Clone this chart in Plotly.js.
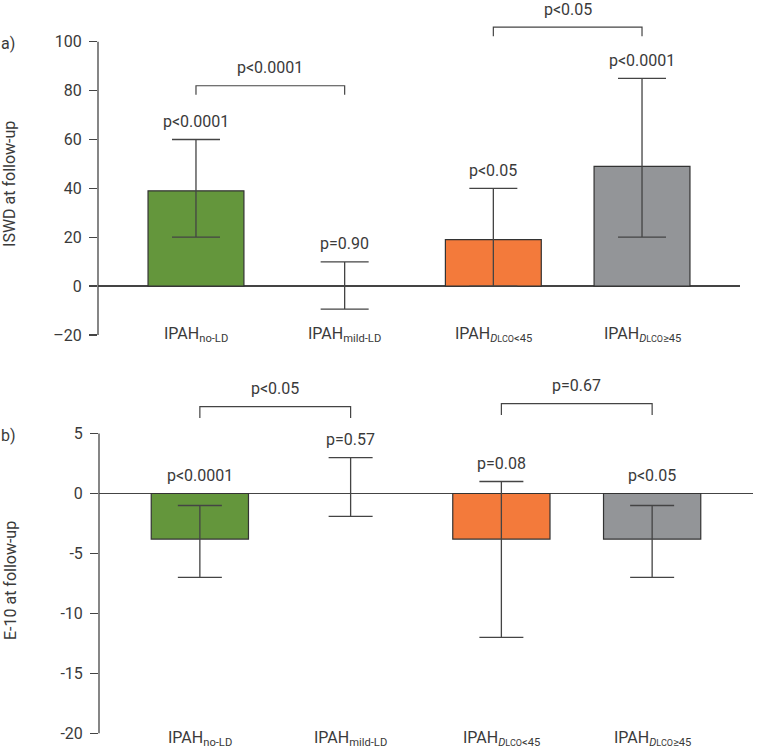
<!DOCTYPE html>
<html><head><meta charset="utf-8">
<script src="https://cdn.plot.ly/plotly-3.0.1.min.js"></script>
<style>html,body{margin:0;padding:0;background:#fff}#chart{width:765px;height:750px}</style>
</head><body><div id="chart"></div>
<script>
// ---- data ----
const categories = [
  'IPAH<sub>no-LD</sub>',
  'IPAH<sub>mild-LD</sub>',
  "IPAH<sub><i>D</i><span style='font-size:9px'>LCO</span>&lt;45</sub>",
  "IPAH<sub><i>D</i><span style='font-size:9px'>LCO</span>≥45</sub>"
];
const barColors = ['#64963c', 'rgba(0,0,0,0)', '#f37a3b', '#939598'];
const barOutline = [1.2, 0, 1.2, 1.2];

const iswdMean = [39, 0.4, 19, 49];
const iswdErrPlus = [21, 9.5, 21, 36];
const iswdErrMinus = [19, 9.8, 19, 29];
const iswdPLabels = ['p&lt;0.0001', 'p=0.90', 'p&lt;0.05', 'p&lt;0.0001'];
const iswdCompare = [[0, 1, 'p&lt;0.0001'], [2, 3, 'p&lt;0.05']];
const iswdTickVals = [-20, 0, 20, 40, 60, 80, 100];
const iswdTickText = ['–20', '0', '20', '40', '60', '80', '100'];

const e10Mean = [-3.8, 0.5, -3.8, -3.8];
const e10ErrPlus = [2.8, 2.5, 4.8, 2.8];
const e10ErrMinus = [3.2, 2.4, 8.2, 3.2];
const e10PLabels = ['p&lt;0.0001', 'p=0.57', 'p=0.08', 'p&lt;0.05'];
const e10Compare = [[0, 1, 'p&lt;0.05'], [2, 3, 'p=0.67']];
const e10TickVals = [-20, -15, -10, -5, 0, 5];
const e10TickText = ['-20', '-15', '-10', '-5', '0', '5'];

// ---- styling / layout constants ----
const W = 765, H = 750;
const INK = '#444';
const TXT = '#3a3a3a';
const FONT = 'Roboto, "Open Sans", sans-serif';
const xIdx = categories.map((_, i) => i);

function barTrace(y, plus, minus, xa, ya, capW) {
  return {
    type: 'bar', x: xIdx, y: y, xaxis: xa, yaxis: ya, width: 0.645,
    marker: { color: barColors, line: { color: '#333', width: barOutline } },
    error_y: { type: 'data', symmetric: false, array: plus, arrayminus: minus,
               color: INK, thickness: 1.3, width: capW },
    hoverinfo: 'skip'
  };
}

const traces = [
  barTrace(iswdMean, iswdErrPlus, iswdErrMinus, 'x', 'y', 24),
  barTrace(e10Mean, e10ErrPlus, e10ErrMinus, 'x2', 'y2', 22)
];

const annotations = [];
const shapes = [];

function addPanel(mean, plus, labels, compare, xr, yr, bracketY, legDrop, catLabelY, axisTop, axisBottom, title, titleY, panelLab) {
  mean.forEach((m, i) => {
    annotations.push({ x: i, y: Math.max(m + plus[i], 0), xref: xr, yref: yr, yshift: 18,
      text: labels[i], showarrow: false, xanchor: 'center', yanchor: 'middle', font: { size: 16, color: TXT } });
    annotations.push({ x: i, y: catLabelY, xref: xr, yref: yr,
      text: categories[i], showarrow: false, xanchor: 'center', yanchor: 'middle', font: { size: 16, color: TXT } });
  });
  compare.forEach((c, k) => {
    const by = bracketY[k];
    shapes.push({ type: 'path', xref: xr, yref: yr,
      path: `M ${c[0]},${by - legDrop} L ${c[0]},${by} L ${c[1]},${by} L ${c[1]},${by - legDrop}`,
      line: { color: INK, width: 1.2 } });
    annotations.push({ x: (c[0] + c[1]) / 2, y: by, xref: xr, yref: yr, yshift: 18,
      text: c[2], showarrow: false, xanchor: 'center', yanchor: 'middle', font: { size: 16, color: TXT } });
  });
  // y axis line only over the labelled range
  shapes.push({ type: 'line', xref: xr + ' domain', yref: yr, x0: 0, x1: 0, y0: axisBottom, y1: axisTop,
    line: { color: INK, width: 1.3 } });
  annotations.push({ x: 10 / W, xref: 'paper', xanchor: 'center', y: titleY, yref: yr, yanchor: 'middle',
    text: title, textangle: -90, showarrow: false, font: { size: 16, color: TXT } });
  annotations.push({ x: 0, xref: 'paper', xanchor: 'left', xshift: -1, y: axisTop, yref: yr, yanchor: 'middle',
    text: panelLab, showarrow: false, font: { size: 16, color: TXT }, yshift: -2 });
}

addPanel(iswdMean, iswdErrPlus, iswdPLabels, iswdCompare, 'x', 'y', [82, 106], 3.7, -19.85, 100, -20,
  'ISWD at follow-up', 41.8, 'a)');
addPanel(e10Mean, e10ErrPlus, e10PLabels, e10Compare, 'x2', 'y2', [7.25, 7.5], 0.95, -20.4, 5, -20,
  'E-10 at follow-up', -7.3, 'b)');

const yCommon = {
  ticks: 'outside', ticklen: 8, tickwidth: 1.3, tickcolor: INK, showgrid: false,
  zeroline: true, zerolinecolor: INK, zerolinewidth: 1.3, showline: false,
  tickfont: { size: 16, color: TXT }, ticklabelstandoff: 4, fixedrange: true
};
const xCommon = { showgrid: false, zeroline: false, showline: false, showticklabels: false,
  ticks: '', fixedrange: true };

const layout = {
  width: W, height: H, margin: { l: 0, r: 0, t: 0, b: 0 },
  paper_bgcolor: '#fff', plot_bgcolor: 'rgba(0,0,0,0)', showlegend: false,
  font: { family: FONT, size: 16, color: TXT },
  bargap: 0,
  xaxis: Object.assign({}, xCommon, { domain: [98 / W, 740 / W], range: [-0.659, 3.659], anchor: 'y' }),
  yaxis: Object.assign({}, yCommon, { domain: [1 - 344.7 / H, 1], range: [-24, 117.1], anchor: 'x',
    tickvals: iswdTickVals, ticktext: iswdTickText }),
  xaxis2: Object.assign({}, xCommon, { domain: [99 / W, 753 / W], range: [-0.669, 3.669], anchor: 'y2' }),
  yaxis2: Object.assign({}, yCommon, { domain: [0, 1 - 370 / H], range: [-21.39, 10.3], anchor: 'x2',
    tickvals: e10TickVals, ticktext: e10TickText }),
  annotations: annotations,
  shapes: shapes
};

Plotly.newPlot('chart', traces, layout, { displayModeBar: false, staticPlot: true });
</script>
</body></html>
